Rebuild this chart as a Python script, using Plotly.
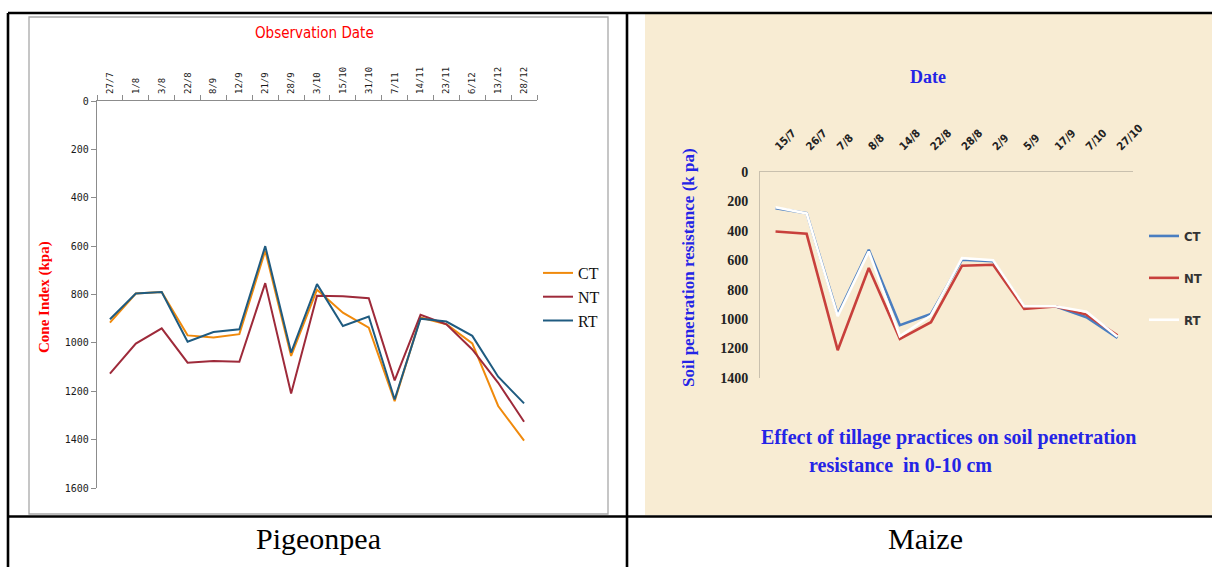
import plotly.graph_objects as go

# ---------------- data ----------------
pigeon_dates = ["27/7", "1/8", "3/8", "22/8", "8/9", "12/9", "21/9", "28/9", "3/10",
                "15/10", "31/10", "7/11", "14/11", "23/11", "6/12", "13/12", "28/12"]
pigeon_ct = [916, 796, 790, 969, 978, 964, 619, 1054, 780, 875, 937, 1241, 895, 923, 1002, 1261, 1404]
pigeon_nt = [1127, 1003, 940, 1082, 1075, 1078, 753, 1209, 805, 807, 815, 1155, 884, 923, 1027, 1165, 1326]
pigeon_rt = [902, 796, 790, 995, 955, 944, 600, 1040, 757, 930, 891, 1234, 900, 912, 971, 1140, 1250]

maize_dates = ["15/7", "26/7", "7/8", "8/8", "14/8", "22/8", "28/8", "2/9", "5/9", "17/9", "7/10", "27/10"]
maize_ct = [246, 280, 969, 528, 1041, 965, 596, 607, 917, 912, 987, 1127]
maize_nt = [404, 420, 1211, 653, 1134, 1021, 637, 630, 930, 913, 969, 1110]
maize_rt = [240, 282, 980, 540, 1116, 975, 585, 600, 912, 912, 950, 1120]

W, H = 1212, 567


def px(x):
    return x / W


def py(y):
    return 1 - y / H


fig = go.Figure()

# ---------------- left (Pigeonpea) ----------------
left_colors = {"CT": "#F08A0C", "NT": "#9E2A3A", "RT": "#1F5B80"}
for name, vals in (("CT", pigeon_ct), ("NT", pigeon_nt), ("RT", pigeon_rt)):
    fig.add_trace(go.Scatter(
        x=pigeon_dates, y=vals, mode="lines", name=name,
        line=dict(color=left_colors[name], width=2),
        xaxis="x", yaxis="y", legend="legend", legendgroup="L" + name,
    ))

# ---------------- right (Maize) ----------------
right_colors = {"CT": "#4A7EC0", "NT": "#C8403C", "RT": "#FFFFFF"}
for name, vals in (("CT", maize_ct), ("NT", maize_nt), ("RT", maize_rt)):
    fig.add_trace(go.Scatter(
        x=maize_dates, y=vals, mode="lines", name=name,
        line=dict(color=right_colors[name], width=2.6),
        xaxis="x2", yaxis="y2", legend="legend2", legendgroup="R" + name,
    ))

mono = "DejaVu Sans Mono, monospace"
serif = "Liberation Serif, Times New Roman, serif"
narrow = "Liberation Sans Narrow, DejaVu Sans Condensed, sans-serif"

shapes = [
    # beige background of maize panel
    dict(type="rect", xref="paper", yref="paper", x0=px(645), x1=px(1212), y0=py(515), y1=py(14),
         fillcolor="#F8ECD3", line=dict(width=0), layer="below"),
    # excel chart frame for pigeonpea
    dict(type="rect", xref="paper", yref="paper", x0=px(29), x1=px(608), y0=py(514), y1=py(17),
         fillcolor="rgba(0,0,0,0)", line=dict(color="#A8A8A8", width=1.3), layer="below"),
]
# table lines
black = dict(color="#000000", width=2.6)
for (x0, y0, x1, y1) in [(8, 13, 1212, 13), (8, 13, 8, 567), (627, 13, 627, 567),
                         (8, 516.5, 1212, 516.5)]:
    shapes.append(dict(type="line", xref="paper", yref="paper", x0=px(x0), x1=px(x1),
                       y0=py(y0), y1=py(y1), line=black, layer="above"))


def label(text, x, y, font, angle=0):
    return dict(text=text, x=px(x), y=py(y), xref="paper", yref="paper", showarrow=False,
                xanchor="center", yanchor="middle", textangle=angle, font=font)


annotations = [
    label("Observation Date", 314, 33, dict(family=narrow, size=15, color="#FF0000")),
    label("Cone Index (kpa)", 44, 297, dict(family=serif, size=15, color="#FF0000", weight="bold"), -90),
    label("Date", 928, 77, dict(family=serif, size=18, color="#2424E6", weight="bold")),
    label("Soil penetration resistance (k pa)", 688, 268,
          dict(family=serif, size=17, color="#2424E6", weight="bold"), -90),
    label("Effect of tillage practices on soil penetration", 948, 437,
          dict(family=serif, size=20, color="#2424E6", weight="bold")),
    label("resistance  in 0-10 cm", 900, 465,
          dict(family=serif, size=20, color="#2424E6", weight="bold")),
    label("Pigeonpea", 318, 538, dict(family=serif, size=30, color="#000000")),
    label("Maize", 925, 538, dict(family=serif, size=30, color="#000000")),
]

fig.update_layout(
    width=W, height=H,
    margin=dict(l=0, r=0, t=0, b=0, autoexpand=False),
    paper_bgcolor="#FFFFFF",
    plot_bgcolor="rgba(0,0,0,0)",
    shapes=shapes,
    annotations=annotations,
    xaxis=dict(domain=[px(97), px(537)], anchor="y", side="top", type="category",
               range=[-0.5, len(pigeon_dates) - 0.5], tickson="boundaries",
               ticks="outside", ticklen=5, tickcolor="#8C8C8C", showline=True,
               linecolor="#8C8C8C", linewidth=1.3, showgrid=False, tickangle=-90,
               ticklabelstandoff=4, automargin=False,
               tickfont=dict(family=mono, size=9, color="#1A1A1A")),
    yaxis=dict(domain=[py(488), py(101)], anchor="x", range=[1600, 0], dtick=200,
               ticks="outside", ticklen=5, tickcolor="#8C8C8C", showline=True,
               linecolor="#8C8C8C", linewidth=1.3, showgrid=False, zeroline=False,
               automargin=False,
               tickfont=dict(family=mono, size=10, color="#1A1A1A")),
    xaxis2=dict(domain=[px(760), px(1133)], anchor="y2", side="top", type="category",
                range=[-0.5, len(maize_dates) - 0.5], ticks="", showline=True,
                linecolor="#C9C0AE", linewidth=1, showgrid=False, tickangle=-45,
                ticklabelstandoff=14, automargin=False,
                tickfont=dict(family=narrow, size=11, color="#222222", weight="bold")),
    yaxis2=dict(domain=[py(378), py(172)], anchor="x2", range=[1400, 0], dtick=200,
                ticks="", showline=True, linecolor="#C9C0AE", linewidth=1, showgrid=False,
                zeroline=False, ticklabelstandoff=8, automargin=False,
                tickfont=dict(family=serif, size=14, color="#222222", weight="bold")),
    legend=dict(x=px(538), y=py(256), xanchor="left", yanchor="top",
                bgcolor="rgba(0,0,0,0)", tracegroupgap=0, itemwidth=30,
                font=dict(family=serif, size=16, color="#111111")),
    legend2=dict(x=px(1144), y=py(221), xanchor="left", yanchor="top",
                 bgcolor="rgba(0,0,0,0)", tracegroupgap=22, itemwidth=30,
                 font=dict(family=narrow, size=13, color="#333333", weight="bold")),
    showlegend=True,
)

fig.write_html("out.html", config={"displayModeBar": False},
               post_script="document.body.style.margin='0';document.body.style.overflow='hidden';")
